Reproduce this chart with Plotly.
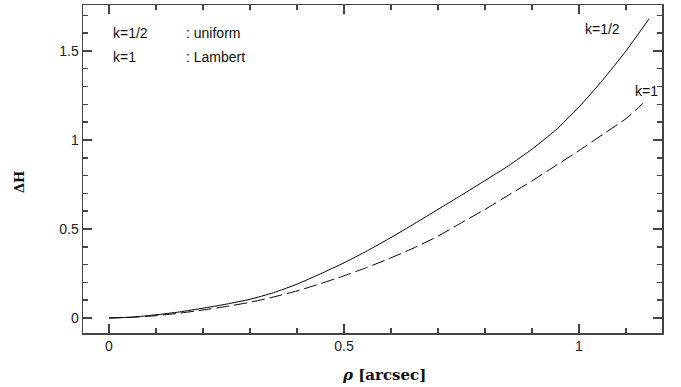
import plotly.graph_objects as go

# data
rho_half = [0, 0.05, 0.1, 0.15, 0.2, 0.25, 0.3, 0.35, 0.4, 0.45, 0.5, 0.55, 0.6, 0.65,
            0.7, 0.75, 0.8, 0.85, 0.9, 0.95, 1.0, 1.05, 1.1, 1.149]
dH_half = [0, 0.005, 0.018, 0.034, 0.055, 0.078, 0.105, 0.142, 0.19, 0.248, 0.31, 0.378,
           0.452, 0.53, 0.61, 0.69, 0.772, 0.855, 0.948, 1.055, 1.185, 1.335, 1.5, 1.68]
rho_one = [0, 0.05, 0.1, 0.15, 0.2, 0.25, 0.3, 0.35, 0.4, 0.45, 0.5, 0.55, 0.6, 0.65,
           0.7, 0.75, 0.8, 0.85, 0.9, 0.95, 1.0, 1.05, 1.1, 1.136]
dH_one = [0, 0.004, 0.013, 0.027, 0.045, 0.065, 0.088, 0.118, 0.152, 0.193, 0.237, 0.285,
          0.338, 0.395, 0.46, 0.535, 0.61, 0.69, 0.77, 0.855, 0.94, 1.03, 1.12, 1.205]

x_range = [-0.0553, 1.1766]
y_range = [-0.0843, 1.758]
major_step = 0.5
minor_step = 0.1

W, H = 681, 387
L, R, T, B = 83, 19, 5, 54
pw, ph = W - L - R, H - T - B

def px(x):
    return (x - L) / pw

def py(y):
    return (H - B - y) / ph

fig = go.Figure()
fig.add_trace(go.Scatter(x=rho_half, y=dH_half, mode="lines",
                         line=dict(color="black", width=1, shape="spline", smoothing=0.5),
                         showlegend=False, hoverinfo="skip"))
fig.add_trace(go.Scatter(x=rho_one, y=dH_one, mode="lines",
                         line=dict(color="black", width=1, dash="13px,5px", shape="spline", smoothing=0.5),
                         showlegend=False, hoverinfo="skip"))

# invisible helper traces that register the tick-only overlay axes
for xa, ya in [("x", "y2"), ("x", "y3"), ("x", "y4"), ("x2", "y"), ("x3", "y"), ("x4", "y")]:
    fig.add_trace(go.Scatter(x=[rho_half[0]], y=[dH_half[0]], mode="markers",
                             marker=dict(opacity=0, size=1), xaxis=xa, yaxis=ya,
                             showlegend=False, hoverinfo="skip"))

tickfont = dict(family="Liberation Sans, Arial, sans-serif", size=14, color="#222")
base = dict(showgrid=False, zeroline=False, tick0=0,
            ticks="inside", tickwidth=1.5, tickcolor="#444")

def major(**kw):
    d = dict(base, dtick=major_step, ticklen=9, showline=True, linecolor="#444", linewidth=1.5)
    d.update(kw)
    return d

def minor(**kw):
    d = dict(base, dtick=minor_step, ticklen=5, showline=False, showticklabels=False)
    d.update(kw)
    return d

fig.update_layout(
    xaxis=major(range=x_range, side="bottom", anchor="y", tickfont=tickfont),
    xaxis2=major(range=x_range, side="top", anchor="y", overlaying="x", showticklabels=False),
    xaxis3=minor(range=x_range, side="bottom", anchor="y", overlaying="x"),
    xaxis4=minor(range=x_range, side="top", anchor="y", overlaying="x"),
    yaxis=major(range=y_range, side="left", anchor="x", tickfont=tickfont),
    yaxis2=major(range=y_range, side="right", anchor="x", overlaying="y", showticklabels=False),
    yaxis3=minor(range=y_range, side="left", anchor="x", overlaying="y"),
    yaxis4=minor(range=y_range, side="right", anchor="x", overlaying="y"),
)

font_ann = dict(family="Liberation Sans, Arial, sans-serif", size=14, color="#111")
anns = [
    ("k=1/2", 111, 33, "left"),
    (": uniform", 184, 33, "left"),
    ("k=1", 111, 57, "left"),
    (": Lambert", 184, 57, "left"),
    ("k=1/2", 583, 29, "left"),
    ("k=1", 633, 91, "left"),
]
for txt, x, y, anc in anns:
    fig.add_annotation(text=txt, x=px(x), y=py(y), xref="paper", yref="paper",
                       xanchor=anc, yanchor="middle", showarrow=False, font=font_ann)

# axis titles
fig.add_annotation(text="<b><i>ρ</i> [arcsec]</b>", x=px(384), y=py(375), xref="paper", yref="paper",
                   xanchor="center", yanchor="middle", showarrow=False,
                   font=dict(family="DejaVu Serif, serif", size=15, color="#111"))
fig.add_annotation(text="<b>ΔH</b>", x=px(20), y=py(182), xref="paper", yref="paper",
                   xanchor="center", yanchor="middle", showarrow=False, textangle=-90,
                   font=dict(family="DejaVu Serif, serif", size=13, color="#111"))

fig.update_layout(width=W, height=H, margin=dict(l=L, r=R, t=T, b=B),
                  plot_bgcolor="white", paper_bgcolor="white", template="none",
                  showlegend=False)
fig.write_html("out.html", config={"displayModeBar": False, "staticPlot": True},
               post_script="document.body.style.margin='0';document.body.style.padding='0';"
                           "document.documentElement.style.overflow='hidden';")
